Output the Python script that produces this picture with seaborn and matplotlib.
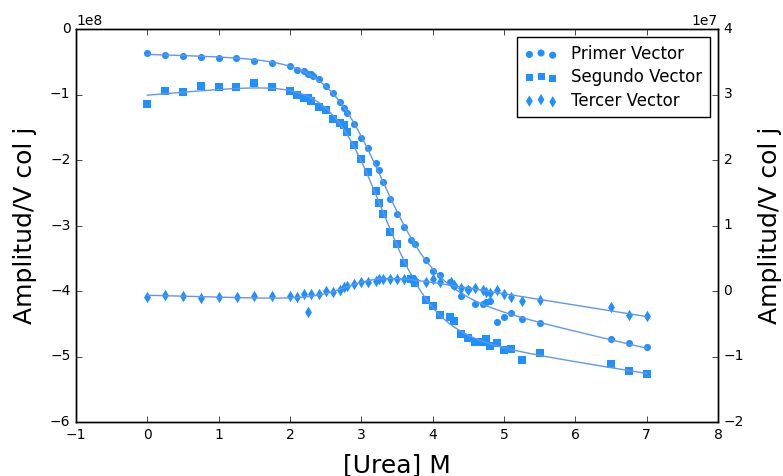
import numpy as np
import matplotlib
matplotlib.use("Agg")
import matplotlib.pyplot as plt
import seaborn as sns

plt.style.use("classic")

# Urea titration: amplitudes of the first three singular vectors
urea_1 = [0, 0.25, 0.5, 0.75, 1.0, 1.25, 1.5, 1.75, 2.0, 2.1, 2.2, 2.25, 2.29, 2.32,
          2.4, 2.5, 2.6, 2.7, 2.75, 2.8, 2.9, 3.0, 3.1, 3.2, 3.25, 3.3, 3.4, 3.5, 3.6,
          3.7, 3.75, 3.9, 4.0, 4.1, 4.25, 4.3, 4.4, 4.5, 4.6, 4.7, 4.75, 4.8, 4.9,
          5.0, 5.1, 5.25, 5.5, 6.5, 6.75, 7.0]
primer = [-0.36, -0.40, -0.41, -0.42, -0.44, -0.45, -0.49, -0.52, -0.57, -0.62, -0.64,
          -0.68, -0.69, -0.71, -0.76, -0.87, -0.98, -1.12, -1.21, -1.28, -1.45, -1.66,
          -1.82, -2.04, -2.16, -2.34, -2.60, -2.82, -3.03, -3.22, -3.28, -3.52, -3.69,
          -3.75, -3.87, -3.93, -4.07, -3.97, -4.20, -4.20, -4.17, -4.15, -4.47, -4.39,
          -4.33, -4.43, -4.49, -4.74, -4.80, -4.86]  # x 1e8

urea_23 = [0, 0.25, 0.5, 0.75, 1.0, 1.25, 1.5, 1.75, 2.0, 2.1, 2.2, 2.25, 2.3, 2.4,
           2.5, 2.6, 2.7, 2.75, 2.8, 2.9, 3.0, 3.1, 3.2, 3.25, 3.3, 3.4, 3.5, 3.6, 3.7,
           3.75, 3.9, 4.0, 4.1, 4.25, 4.3, 4.4, 4.5, 4.6, 4.7, 4.75, 4.8, 4.9, 5.0,
           5.1, 5.25, 5.5, 6.5, 6.75, 7.0]
segundo = [-1.14, -0.95, -0.96, -0.87, -0.88, -0.88, -0.83, -0.88, -0.94, -1.01, -1.06,
           -1.05, -1.10, -1.19, -1.24, -1.38, -1.43, -1.47, -1.58, -1.77, -1.99, -2.18,
           -2.47, -2.65, -2.82, -3.10, -3.28, -3.57, -3.81, -3.88, -4.14, -4.23, -4.36,
           -4.39, -4.46, -4.66, -4.71, -4.78, -4.78, -4.73, -4.84, -4.79, -4.90, -4.88,
           -5.06, -4.94, -5.12, -5.22, -5.27]  # x 1e8
tercer = [-0.09, -0.06, -0.08, -0.10, -0.09, -0.09, -0.08, -0.07, -0.08, -0.09, -0.04,
          -0.32, -0.04, -0.05, 0.00, -0.01, 0.02, 0.06, 0.08, 0.11, 0.13, 0.14, 0.16,
          0.18, 0.18, 0.18, 0.19, 0.19, 0.18, 0.17, 0.14, 0.18, 0.13, 0.13, 0.09, 0.05,
          0.02, 0.04, 0.01, -0.01, -0.03, 0.01, -0.05, -0.09, -0.15, -0.13, -0.25,
          -0.37, -0.38]  # x 1e7

labels = ["Primer Vector", "Segundo Vector", "Tercer Vector"]
marker_color = "#1E90FF"
fit_color = "#6495ED"


def two_state_fit(x, y, xf):
    """Two-state unfolding curve with linear baselines (grid over Cm, m)."""
    x = np.asarray(x, float)
    y = np.asarray(y, float)
    best = None
    for cm in np.linspace(2.0, 4.5, 101):
        for m in np.linspace(0.5, 8.0, 76):
            f = 1.0 / (1.0 + np.exp(m * (x - cm)))
            A = np.column_stack([f, f * x, 1 - f, (1 - f) * x])
            coef = np.linalg.lstsq(A, y, rcond=None)[0]
            sse = np.sum((A @ coef - y) ** 2)
            if best is None or sse < best[0]:
                best = (sse, cm, m, coef)
    _, cm, m, coef = best
    f = 1.0 / (1.0 + np.exp(m * (xf - cm)))
    return f * (coef[0] + coef[1] * xf) + (1 - f) * (coef[2] + coef[3] * xf)


xf = np.linspace(0, 7, 300)
y1 = np.array(primer) * 1e8
y2 = np.array(segundo) * 1e8
y3 = np.array(tercer) * 1e7

fig = plt.figure(figsize=(7.83, 4.76), dpi=100)
ax = fig.add_axes([76 / 783, 1 - 422 / 476, (718 - 76) / 783, (422 - 29) / 476])
ax2 = ax.twinx()

sns.lineplot(x=xf, y=two_state_fit(urea_1, y1, xf), color=fit_color, lw=1.0,
             sort=False, estimator=None, ax=ax)
sns.lineplot(x=xf, y=two_state_fit(urea_23, y2, xf), color=fit_color, lw=1.0,
             sort=False, estimator=None, ax=ax)
sns.lineplot(x=xf, y=two_state_fit(urea_23, y3, xf), color=fit_color, lw=1.0,
             sort=False, estimator=None, ax=ax2)

msize = 26
sns.scatterplot(x=urea_1, y=y1, marker="o", s=msize, color=marker_color,
                edgecolor=marker_color, linewidth=0, ax=ax)
h1 = ax.collections[-1]
sns.scatterplot(x=urea_23, y=y2, marker="s", s=msize, color=marker_color,
                edgecolor=marker_color, linewidth=0, ax=ax)
h2 = ax.collections[-1]
sns.scatterplot(x=urea_23, y=y3, marker="d", s=msize * 1.3, color=marker_color,
                edgecolor=marker_color, linewidth=0, ax=ax2)
h3 = ax2.collections[-1]

for a in (ax, ax2):
    if a.get_legend() is not None:
        a.get_legend().remove()

ax.set_xlim(-1, 8)
ax.set_ylim(-6e8, 0)
ax2.set_ylim(-2e7, 4e7)
ax.set_xticks(np.arange(-1, 9, 1))
ax.set_yticks(np.arange(-6e8, 1e8, 1e8))
ax2.set_yticks(np.arange(-2e7, 5e7, 1e7))

ax.tick_params(labelsize=10, direction="in", length=4)
ax2.tick_params(labelsize=10, direction="in", length=4)
ax.yaxis.get_offset_text().set_fontsize(10)
ax2.yaxis.get_offset_text().set_fontsize(10)

ax.set_xlabel("[Urea] M", fontsize=18, labelpad=8)
ax.set_ylabel("Amplitud/V col j", fontsize=18, labelpad=9)
ax2.set_ylabel("Amplitud/V col j", fontsize=18, labelpad=10)

ax2.legend([h1, h2, h3], labels, loc="upper right", fontsize=12, scatterpoints=3,
           labelspacing=0.32, borderpad=0.45, frameon=True, fancybox=False)

fig.savefig("out.png", dpi=100, facecolor="white")
